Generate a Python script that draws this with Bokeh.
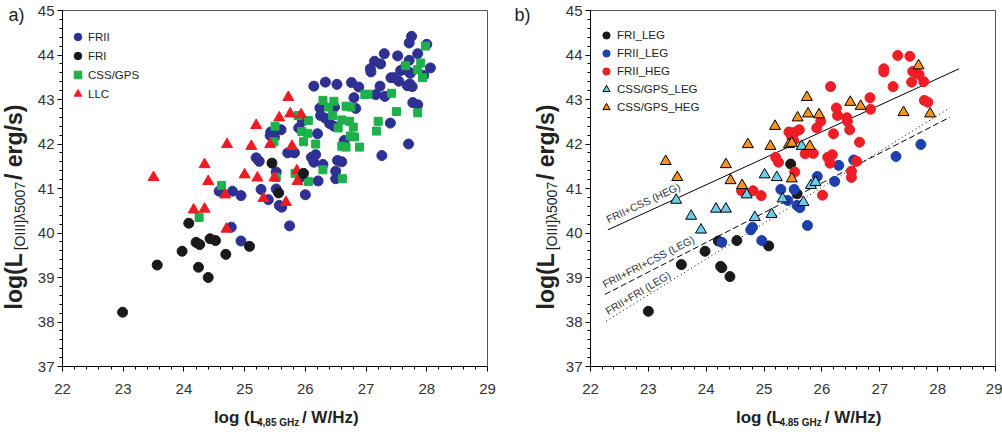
import math
from bokeh.plotting import figure
from bokeh.models import Label, Legend, LegendItem, SingleIntervalTicker, Range1d
from bokeh.layouts import row, column
from bokeh.embed import file_html
from bokeh.resources import INLINE

FONT = "Liberation Sans"

# ---------------- Panel a data ----------------
a_frii_x = [27.75, 27.71, 28.00, 27.30, 27.52, 27.85, 27.14, 27.24, 27.07, 27.08, 27.71, 28.06, 27.57, 27.62,
            27.71, 27.73, 27.41, 27.46, 27.54, 27.95, 27.72, 27.76, 27.68, 27.23, 27.16, 27.31, 27.77, 27.85,
            26.14, 26.33, 26.52, 26.76, 26.88, 26.80, 26.83, 26.24, 26.48, 26.25, 26.33, 26.40, 26.47, 25.95,
            25.89, 25.43, 25.52, 25.60, 25.49, 25.42, 26.20, 27.40, 27.70, 27.26, 26.64, 25.19, 25.24, 25.71,
            25.82, 26.10, 26.17, 26.14, 26.29, 26.53, 26.60, 26.50, 26.50, 26.21, 25.52, 25.92, 24.58, 24.80,
            24.94, 25.27, 25.52, 25.39, 25.57, 25.61, 26.00, 25.74, 24.78, 24.94]
a_frii_y = [44.42, 44.27, 44.24, 44.03, 43.98, 44.03, 43.86, 43.80, 43.69, 43.62, 43.88, 43.71, 43.65, 43.69,
            43.61, 43.59, 43.49, 43.49, 43.41, 43.54, 43.35, 43.29, 43.31, 43.30, 43.11, 43.07, 42.93, 42.88,
            43.30, 43.39, 43.34, 43.38, 43.28, 43.04, 42.80, 42.81, 42.83, 42.64, 42.58, 42.46, 42.40, 42.51,
            42.36, 42.27, 42.32, 42.32, 42.15, 42.19, 42.23, 42.47, 42.00, 41.74, 42.08, 41.69, 41.61, 41.80,
            41.80, 41.70, 41.76, 41.59, 41.54, 41.63, 41.60, 41.39, 41.22, 41.17, 41.37, 41.25, 40.94, 40.94,
            40.84, 40.98, 40.99, 40.75, 40.62, 40.58, 40.86, 40.16, 40.13, 39.82]

a_fri_x = [22.99, 23.56, 23.97, 24.08, 24.20, 24.26, 24.24, 24.40, 24.43, 24.52, 24.69, 25.08, 25.45, 25.56, 25.97]
a_fri_y = [38.22, 39.28, 39.59, 40.22, 39.79, 39.74, 39.23, 39.00, 39.87, 39.83, 39.52, 39.70, 41.57, 40.90, 41.34]

a_css_x = [27.98, 27.65, 27.90, 27.85, 27.93, 27.42, 26.98, 27.03, 27.50, 27.85, 27.20, 27.17, 26.29, 26.38,
           26.47, 26.67, 26.75, 26.45, 26.60, 26.73, 26.54, 26.79, 26.74, 26.81, 26.60, 26.67, 26.89, 26.05,
           25.88, 25.94, 26.04, 25.97, 26.17, 25.50, 25.48, 26.29, 25.83, 26.05, 26.61, 25.52, 24.62, 24.25]
a_css_y = [44.20, 43.76, 43.82, 43.67, 43.49, 43.14, 43.11, 43.12, 42.73, 42.70, 42.51, 42.29, 42.98, 42.83,
           42.96, 42.85, 42.83, 42.64, 42.54, 42.51, 42.36, 42.38, 42.18, 42.16, 41.95, 41.93, 41.93, 42.53,
           42.64, 42.28, 42.24, 42.05, 42.00, 42.40, 42.05, 41.42, 41.34, 41.16, 41.22, 41.25, 41.07, 40.35]

a_llc_x = [25.72, 25.75, 25.93, 25.57, 25.19, 24.71, 25.11, 25.42, 25.78, 24.34, 23.50, 24.40, 25.00, 25.21,
           25.49, 25.86, 25.87, 24.68, 25.31, 25.68, 24.16, 24.34, 24.70]
a_llc_y = [43.05, 42.68, 42.66, 42.59, 42.42, 41.99, 41.95, 41.99, 41.95, 41.54, 41.25, 41.16, 41.31, 41.24,
           41.24, 41.40, 41.16, 40.86, 40.78, 40.69, 40.52, 40.54, 40.09]

# ---------------- Panel b data ----------------
b_fri_leg_x = [23.00, 23.57, 23.98, 24.21, 24.25, 24.27, 24.41, 24.53, 25.08, 25.46, 25.57]
b_fri_leg_y = [38.24, 39.29, 39.59, 39.82, 39.25, 39.22, 39.02, 39.83, 39.71, 41.55, 40.88]

b_frii_leg_x = [27.71, 27.28, 26.55, 26.29, 25.92, 26.22, 25.29, 25.52, 25.41, 25.57, 25.62, 25.75, 24.77,
                24.80, 24.96, 24.27]
b_frii_leg_y = [41.99, 41.72, 41.64, 41.52, 41.27, 41.16, 40.98, 40.98, 40.73, 40.62, 40.57, 40.17, 40.07,
                40.13, 39.83, 39.79]

b_frii_heg_x = [27.31, 27.52, 27.07, 27.07, 27.57, 27.62, 27.68, 27.55, 27.76, 27.23, 26.15, 26.83, 26.84,
                27.77, 27.83, 26.25, 26.27, 26.43, 26.44, 26.48, 25.91, 25.98, 26.20, 25.43, 25.54, 25.61,
                25.48, 25.51, 26.65, 25.20, 25.25, 25.71, 25.85, 26.10, 26.18, 26.14, 26.60, 26.51, 26.51,
                25.53, 24.61, 24.81, 24.95, 26.01]
b_frii_heg_y = [43.99, 43.97, 43.69, 43.62, 43.63, 43.60, 43.56, 43.39, 43.40, 43.29, 43.29, 43.04, 42.78,
                42.98, 42.94, 42.81, 42.64, 42.59, 42.51, 42.32, 42.36, 42.51, 42.23, 42.27, 42.27, 42.32,
                42.15, 42.08, 42.04, 41.70, 41.59, 41.78, 41.79, 41.70, 41.76, 41.57, 41.61, 41.39, 41.25,
                41.37, 40.95, 40.95, 40.84, 40.85]

b_css_leg_x = [25.65, 25.01, 25.22, 25.81, 25.89, 24.70, 23.48, 23.74, 23.91, 24.17, 24.34, 24.84, 25.13, 25.32, 25.68]
b_css_leg_y = [41.95, 41.31, 41.25, 41.07, 41.14, 40.86, 40.74, 40.38, 40.07, 40.54, 40.54, 40.35, 40.42, 40.77, 40.69]

b_css_heg_x = [27.67, 27.41, 27.87, 26.49, 26.67, 25.74, 25.76, 25.95, 25.58, 25.19, 24.72, 25.11, 25.43,
               25.48, 25.79, 23.30, 23.50, 24.34, 24.42, 24.62, 25.48]
b_css_heg_y = [43.76, 42.71, 42.68, 42.94, 42.85, 43.05, 42.68, 42.66, 42.59, 42.40, 41.99, 41.95, 41.99,
               42.02, 41.95, 41.61, 41.25, 41.54, 41.18, 41.07, 41.22]

# fit lines (end points)
fit_heg_x = [22.30, 28.37]
fit_heg_y = [40.07, 43.69]
fit_leg_css_x = [22.25, 28.21]
fit_leg_css_y = [38.62, 42.60]
fit_leg_x = [22.27, 28.21]
fit_leg_y = [38.02, 42.81]

x_range_vals = (22, 29)
y_range_vals = (37, 45)

MAIN_H = 400
TXT_H = 32
FULL_H = MAIN_H + TXT_H
FRAME_TOP = 10
FRAME_BOTTOM = 366


def make_main(width, bl, br):
    p = figure(width=width, height=MAIN_H, x_range=Range1d(*x_range_vals), y_range=Range1d(*y_range_vals),
               output_backend="svg", toolbar_location=None, title=None,
               min_border_left=bl, min_border_right=br,
               min_border_top=FRAME_TOP, min_border_bottom=MAIN_H - FRAME_BOTTOM)
    p.xgrid.visible = False
    p.ygrid.visible = False
    p.outline_line_color = "#555555"
    p.background_fill_color = "white"
    p.border_fill_color = "white"
    p.xaxis.ticker = SingleIntervalTicker(interval=1, num_minor_ticks=5)
    p.yaxis.ticker = SingleIntervalTicker(interval=1, num_minor_ticks=5)
    for ax in (p.xaxis[0], p.yaxis[0]):
        ax.major_tick_in = 0
        ax.major_tick_out = 5
        ax.minor_tick_in = 0
        ax.minor_tick_out = 3
        ax.axis_line_color = "black"
        ax.major_tick_line_color = "black"
        ax.minor_tick_line_color = "black"
        ax.major_label_text_font = FONT
        ax.major_label_text_font_size = "15px"
        ax.major_label_text_color = "#333333"
    p.xaxis.major_label_standoff = 12
    p.yaxis.major_label_standoff = 3
    return p


def make_text_fig(width, height):
    # blank canvas whose data units equal pixels (origin at top-left)
    p = figure(width=width, height=height, x_range=Range1d(0, width), y_range=Range1d(height, 0),
               output_backend="svg", toolbar_location=None, title=None,
               x_axis_type=None, y_axis_type=None,
               min_border_left=0, min_border_right=0, min_border_top=0, min_border_bottom=0)
    p.xgrid.visible = False
    p.ygrid.visible = False
    p.outline_line_color = None
    p.background_fill_color = "white"
    p.border_fill_color = "white"
    return p


def y_title(p, xc, ystart, F=23, f=14):
    # xc: centre line of the capitals of the large text
    parts = [("log(L", F, "bold", 0, 2.444, 3),
             ("[OIII]\u03bb5007", f, "normal", 6.5, 4.948, 1),
             (" / erg/s)", F, "bold", 0, 3.557, 0)]
    y = ystart
    for t, s, st, dx, em, gap in parts:
        p.add_layout(Label(x=xc + dx, y=y, text=t, angle=math.pi / 2,
                           text_font=FONT, text_font_size=f"{s}px", text_font_style=st,
                           text_align="left", text_baseline="alphabetic", text_color="#222222"))
        y -= em * s + gap


def x_title(p, xstart, yc, sub, F=17, f=10):
    parts = [("log (L", F, 0, 2.722, 1),
             (sub, f, 5, 4.224, 7),
             ("/ W/Hz)", F, 0, 3.611, 0)]
    x = xstart
    for t, s, dy, em, gap in parts:
        p.add_layout(Label(x=x, y=yc + dy, text=t,
                           text_font=FONT, text_font_size=f"{s}px", text_font_style="bold",
                           text_align="left", text_baseline="alphabetic", text_color="#222222"))
        x += em * s + gap


def style_legend(leg, gw, gh, standoff):
    leg.glyph_width = gw
    leg.glyph_height = gh
    leg.spacing = 0
    leg.padding = 0
    leg.margin = 0
    leg.label_standoff = standoff
    leg.label_height = gh
    leg.label_text_font = FONT
    leg.label_text_font_size = "11.5px"
    leg.label_text_color = "#222222"
    leg.label_text_baseline = "middle"
    leg.border_line_alpha = 0
    leg.background_fill_alpha = 0


# ---------------- Panel a ----------------
ya = make_text_fig(34, FULL_H)
y_title(ya, 13, 309)
ya.add_layout(Label(x=8, y=14, text="a)", text_font=FONT, text_font_size="18px",
                    text_align="left", text_baseline="alphabetic", text_color="#222222"))

pa = make_main(466, 27, 13)
r_frii = pa.scatter(a_frii_x, a_frii_y, marker="circle", size=10, fill_color="#2E3192", line_color="#2E3192")
r_css = pa.scatter(a_css_x, a_css_y, marker="square", size=8, fill_color="#1DB04B", line_color="#1DB04B")
r_llc = pa.scatter(a_llc_x, a_llc_y, marker="triangle", size=11, fill_color="#ED1C24", line_color="#ED1C24")
r_fri = pa.scatter(a_fri_x, a_fri_y, marker="circle", size=10, fill_color="#1A1A1A", line_color="#1A1A1A")
leg_a = Legend(items=[LegendItem(label="FRII", renderers=[r_frii]),
                      LegendItem(label="FRI", renderers=[r_fri]),
                      LegendItem(label="CSS/GPS", renderers=[r_css]),
                      LegendItem(label="LLC", renderers=[r_llc])],
               location=(5, 263))
style_legend(leg_a, 21, 19, -4)
pa.add_layout(leg_a)

xa = make_text_fig(466, TXT_H)
x_title(xa, 200 - 34, 16.5, "4,85 GHz")

# ---------------- Panel b ----------------
yb = make_text_fig(62, FULL_H)
y_title(yb, 45, 309)
yb.add_layout(Label(x=14, y=14, text="b)", text_font=FONT, text_font_size="18px",
                    text_align="left", text_baseline="alphabetic", text_color="#222222"))

pb = make_main(440, 25, 7)
pb.line(fit_heg_x, fit_heg_y, line_color="black", line_width=1)
pb.line(fit_leg_css_x, fit_leg_css_y, line_color="black", line_width=1, line_dash="6 3")
pb.line(fit_leg_x, fit_leg_y, line_color="black", line_width=1, line_dash="1 3")
rb1 = pb.scatter(b_fri_leg_x, b_fri_leg_y, marker="circle", size=10, fill_color="#1A1A1A", line_color="#1A1A1A")
rb2 = pb.scatter(b_frii_leg_x, b_frii_leg_y, marker="circle", size=10, fill_color="#1E3FAE", line_color="#1E3FAE")
rb3 = pb.scatter(b_frii_heg_x, b_frii_heg_y, marker="circle", size=10, fill_color="#EE1D26", line_color="#EE1D26")
rb4 = pb.scatter(b_css_leg_x, b_css_leg_y, marker="triangle", size=11, fill_color="#6CCDEE", line_color="black", line_width=1)
rb5 = pb.scatter(b_css_heg_x, b_css_heg_y, marker="triangle", size=11, fill_color="#F7931E", line_color="black", line_width=1)
leg_b = Legend(items=[LegendItem(label="FRI_LEG", renderers=[rb1]),
                      LegendItem(label="FRII_LEG", renderers=[rb2]),
                      LegendItem(label="FRII_HEG", renderers=[rb3]),
                      LegendItem(label="CSS/GPS_LEG", renderers=[rb4]),
                      LegendItem(label="CSS/GPS_HEG", renderers=[rb5])],
               location=(5, 250))
style_legend(leg_b, 22, 18, -6)
pb.add_layout(leg_b)

for txt, xx, yy, ang in [("FRII+CSS (HEG)", 22.28, 40.30, 25),
                         ("FRII+FRI+CSS (LEG)", 22.22, 38.84, 27),
                         ("FRII+FRI (LEG)", 22.27, 38.23, 31)]:
    pb.add_layout(Label(x=xx, y=yy, text=txt, angle=math.radians(ang), text_font=FONT,
                        text_font_size="10.5px", text_align="left", text_baseline="alphabetic",
                        text_color="#333333"))

xb = make_text_fig(440, TXT_H)
x_title(xb, 720 - 562, 16.5, "4.85 GHz")

layout = row(ya, column(pa, xa), yb, column(pb, xb))
open("out.html", "w").write(file_html(layout, INLINE))
